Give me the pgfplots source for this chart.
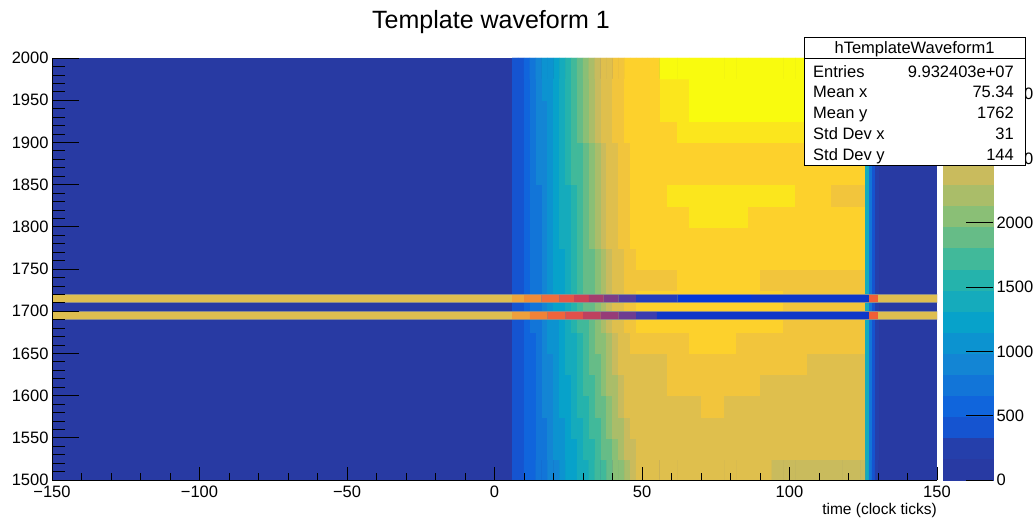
\documentclass[border=0pt]{standalone}
\usepackage{pgfplots}
\pgfplotsset{compat=1.18}
\usepackage{fontspec}
\setmainfont{Liberation Sans}
\pgfkeys{/pgf/number format/.cd,1000 sep={},assume math mode=true}
\definecolor{bgblue}{RGB}{40,58,163}
\pgfplotsset{colormap={bird20}{
 rgb255=(40,58,163) rgb255=(37,63,171) rgb255=(21,84,208) rgb255=(16,101,220) rgb255=(18,117,216)
 rgb255=(19,133,212) rgb255=(12,147,208) rgb255=(7,162,202) rgb255=(21,171,188) rgb255=(37,179,172)
 rgb255=(65,185,154) rgb255=(102,188,135) rgb255=(138,191,118) rgb255=(170,189,105) rgb255=(201,187,93)
 rgb255=(223,191,77) rgb255=(242,197,60) rgb255=(253,209,44) rgb255=(251,230,29) rgb255=(249,251,14)}}
\newcommand{\tickfont}{\fontsize{16.5}{19}\selectfont}
\newcommand{\statfont}{\fontsize{16.5}{19}\selectfont}
\newcommand{\seg}[7]{\addplot[draw=none, fill={rgb,255:red,#5;green,#6;blue,#7}, forget plot] coordinates {(#1,#3) (#2,#3) (#2,#4) (#1,#4) (#1,#3)};}
\begin{document}
\begin{tikzpicture}
\path[use as bounding box] (0pt,0pt) rectangle (1036pt,520pt);
\begin{axis}[
  at={(52pt,40pt)}, anchor=south west,
  scale only axis, width=885pt, height=422pt,
  xmin=-150, xmax=150, ymin=1500, ymax=2000,
  axis on top,
  axis x line*=bottom, axis y line*=left,
  axis line style={black, line width=0.8pt},
  xtick={-150,-100,-50,0,50,100,150},
  xticklabels={−150,−100,−50,0,50,100,150},
  ytick={1500,1550,...,2000},
  minor x tick num=4, minor y tick num=4,
  tick align=inside,
  xtick style={black, line width=0.7pt, /pgfplots/major tick length=13pt, /pgfplots/minor tick length=7pt},
  ytick style={black, line width=0.7pt, /pgfplots/major tick length=27pt, /pgfplots/minor tick length=13pt},
  tick label style={font=\tickfont},
  xticklabel style={yshift=-2pt},
  axis background/.style={fill=bgblue},
  colormap name=bird20,
  colormap access=piecewise constant,
  point meta min=0, point meta max=3280,
  colorbar shift/.style={xshift=6pt},
  colorbar,
  colorbar style={
    at={(parent axis.north east)}, anchor=north west,
    scale only axis, width=50pt, height=422pt,
    ytick={0,500,...,3000},
    ytick pos=right, yticklabel pos=right,
    tick align=inside,
    major tick length=27pt,
    minor y tick num=0,
    ytick style={black, line width=0.7pt},
    yticklabel style={font=\tickfont},
    axis line style={draw=none},
  },
]
\addplot[matrix plot*, mesh/cols=48, point meta=explicit] table[row sep=\\, meta=v] {
x y v\\
7 1512.5 352\\9 1512.5 426\\11 1512.5 507\\13 1512.5 593\\15 1512.5 681\\17 1512.5 773\\19 1512.5 865\\21 1512.5 963\\23 1512.5 1061\\25 1512.5 1162\\27 1512.5 1263\\29 1512.5 1367\\31 1512.5 1472\\33 1512.5 1576\\35 1512.5 1683\\37 1512.5 1792\\39 1512.5 1899\\41 1512.5 2010\\43 1512.5 2119\\45 1512.5 2234\\47 1512.5 2345\\49 1512.5 2470\\51 1512.5 2540\\53 1512.5 2540\\55 1512.5 2540\\57 1512.5 2540\\
60 1512.5 2540\\64 1512.5 2540\\68 1512.5 2540\\72 1512.5 2540\\76 1512.5 2540\\80 1512.5 2540\\84 1512.5 2540\\88 1512.5 2540\\92 1512.5 2540\\96 1512.5 2440\\100 1512.5 2440\\104 1512.5 2440\\108 1512.5 2440\\112 1512.5 2440\\116 1512.5 2440\\120 1512.5 2440\\123 1512.5 2440\\125 1512.5 2440\\126.5 1512.5 1350\\127.5 1512.5 800\\128.5 1512.5 420\\129.5 1512.5 250\\
7 1537.5 354\\9 1537.5 430\\11 1537.5 514\\13 1537.5 604\\15 1537.5 696\\17 1537.5 790\\19 1537.5 888\\21 1537.5 988\\23 1537.5 1093\\25 1537.5 1197\\27 1537.5 1302\\29 1537.5 1409\\31 1537.5 1517\\33 1537.5 1628\\35 1537.5 1741\\37 1537.5 1853\\39 1537.5 1966\\41 1537.5 2079\\43 1537.5 2198\\45 1537.5 2314\\47 1537.5 2431\\49 1537.5 2500\\51 1537.5 2540\\53 1537.5 2540\\55 1537.5 2540\\57 1537.5 2540\\
60 1537.5 2540\\64 1537.5 2540\\68 1537.5 2540\\72 1537.5 2540\\76 1537.5 2540\\80 1537.5 2540\\84 1537.5 2540\\88 1537.5 2540\\92 1537.5 2540\\96 1537.5 2540\\100 1537.5 2540\\104 1537.5 2540\\108 1537.5 2540\\112 1537.5 2540\\116 1537.5 2540\\120 1537.5 2540\\123 1537.5 2540\\125 1537.5 2540\\126.5 1537.5 1350\\127.5 1537.5 800\\128.5 1537.5 420\\129.5 1537.5 250\\
7 1562.5 356\\9 1562.5 435\\11 1562.5 523\\13 1562.5 615\\15 1562.5 711\\17 1562.5 810\\19 1562.5 913\\21 1562.5 1018\\23 1562.5 1126\\25 1562.5 1234\\27 1562.5 1345\\29 1562.5 1456\\31 1562.5 1569\\33 1562.5 1685\\35 1562.5 1801\\37 1562.5 1918\\39 1562.5 2036\\41 1562.5 2156\\43 1562.5 2278\\45 1562.5 2399\\47 1562.5 2500\\49 1562.5 2540\\51 1562.5 2540\\53 1562.5 2540\\55 1562.5 2540\\57 1562.5 2540\\
60 1562.5 2540\\64 1562.5 2540\\68 1562.5 2540\\72 1562.5 2540\\76 1562.5 2540\\80 1562.5 2540\\84 1562.5 2540\\88 1562.5 2540\\92 1562.5 2540\\96 1562.5 2540\\100 1562.5 2540\\104 1562.5 2540\\108 1562.5 2540\\112 1562.5 2540\\116 1562.5 2540\\120 1562.5 2540\\123 1562.5 2540\\125 1562.5 2540\\126.5 1562.5 1350\\127.5 1562.5 800\\128.5 1562.5 420\\129.5 1562.5 250\\
7 1587.5 358\\9 1587.5 438\\11 1587.5 529\\13 1587.5 624\\15 1587.5 723\\17 1587.5 825\\19 1587.5 930\\21 1587.5 1040\\23 1587.5 1150\\25 1587.5 1262\\27 1587.5 1374\\29 1587.5 1490\\31 1587.5 1606\\33 1587.5 1725\\35 1587.5 1845\\37 1587.5 1966\\39 1587.5 2086\\41 1587.5 2210\\43 1587.5 2336\\45 1587.5 2470\\47 1587.5 2540\\49 1587.5 2540\\51 1587.5 2540\\53 1587.5 2540\\55 1587.5 2540\\57 1587.5 2540\\
60 1587.5 2540\\64 1587.5 2540\\68 1587.5 2540\\72 1587.5 2700\\76 1587.5 2700\\80 1587.5 2540\\84 1587.5 2540\\88 1587.5 2540\\92 1587.5 2540\\96 1587.5 2540\\100 1587.5 2540\\104 1587.5 2540\\108 1587.5 2540\\112 1587.5 2540\\116 1587.5 2540\\120 1587.5 2540\\123 1587.5 2540\\125 1587.5 2540\\126.5 1587.5 1350\\127.5 1587.5 800\\128.5 1587.5 420\\129.5 1587.5 250\\
7 1612.5 358\\9 1612.5 442\\11 1612.5 536\\13 1612.5 633\\15 1612.5 735\\17 1612.5 839\\19 1612.5 948\\21 1612.5 1061\\23 1612.5 1173\\25 1612.5 1290\\27 1612.5 1407\\29 1612.5 1524\\31 1612.5 1645\\33 1612.5 1770\\35 1612.5 1890\\37 1612.5 2015\\39 1612.5 2139\\41 1612.5 2268\\43 1612.5 2396\\45 1612.5 2500\\47 1612.5 2540\\49 1612.5 2540\\51 1612.5 2540\\53 1612.5 2540\\55 1612.5 2540\\57 1612.5 2540\\
60 1612.5 2700\\64 1612.5 2700\\68 1612.5 2700\\72 1612.5 2700\\76 1612.5 2700\\80 1612.5 2700\\84 1612.5 2700\\88 1612.5 2700\\92 1612.5 2540\\96 1612.5 2540\\100 1612.5 2540\\104 1612.5 2540\\108 1612.5 2540\\112 1612.5 2540\\116 1612.5 2540\\120 1612.5 2540\\123 1612.5 2540\\125 1612.5 2540\\126.5 1612.5 1350\\127.5 1612.5 800\\128.5 1612.5 420\\129.5 1612.5 250\\
7 1637.5 360\\9 1637.5 446\\11 1637.5 542\\13 1637.5 643\\15 1637.5 747\\17 1637.5 855\\19 1637.5 967\\21 1637.5 1083\\23 1637.5 1200\\25 1637.5 1320\\27 1637.5 1440\\29 1637.5 1563\\31 1637.5 1688\\33 1637.5 1813\\35 1637.5 1940\\37 1637.5 2067\\39 1637.5 2198\\41 1637.5 2328\\43 1637.5 2470\\45 1637.5 2520\\47 1637.5 2540\\49 1637.5 2540\\51 1637.5 2540\\53 1637.5 2540\\55 1637.5 2540\\57 1637.5 2540\\
60 1637.5 2700\\64 1637.5 2700\\68 1637.5 2700\\72 1637.5 2700\\76 1637.5 2700\\80 1637.5 2700\\84 1637.5 2700\\88 1637.5 2700\\92 1637.5 2700\\96 1637.5 2700\\100 1637.5 2700\\104 1637.5 2700\\108 1637.5 2540\\112 1637.5 2540\\116 1637.5 2540\\120 1637.5 2540\\123 1637.5 2540\\125 1637.5 2540\\126.5 1637.5 1350\\127.5 1637.5 800\\128.5 1637.5 420\\129.5 1637.5 250\\
7 1662.5 362\\9 1662.5 448\\11 1662.5 549\\13 1662.5 652\\15 1662.5 761\\17 1662.5 873\\19 1662.5 988\\21 1662.5 1108\\23 1662.5 1228\\25 1662.5 1352\\27 1662.5 1474\\29 1662.5 1601\\31 1662.5 1730\\33 1662.5 1859\\35 1662.5 1992\\37 1662.5 2121\\39 1662.5 2258\\41 1662.5 2393\\43 1662.5 2501\\45 1662.5 2583\\47 1662.5 2700\\49 1662.5 2700\\51 1662.5 2700\\53 1662.5 2700\\55 1662.5 2700\\57 1662.5 2700\\
60 1662.5 2700\\64 1662.5 2700\\68 1662.5 2880\\72 1662.5 2880\\76 1662.5 2880\\80 1662.5 2880\\84 1662.5 2700\\88 1662.5 2700\\92 1662.5 2700\\96 1662.5 2700\\100 1662.5 2700\\104 1662.5 2700\\108 1662.5 2700\\112 1662.5 2700\\116 1662.5 2700\\120 1662.5 2700\\123 1662.5 2700\\125 1662.5 2700\\126.5 1662.5 1350\\127.5 1662.5 800\\128.5 1662.5 420\\129.5 1662.5 250\\
7 1687.5 364\\9 1687.5 455\\11 1687.5 556\\13 1687.5 663\\15 1687.5 775\\17 1687.5 890\\19 1687.5 1010\\21 1687.5 1134\\23 1687.5 1258\\25 1687.5 1385\\27 1687.5 1513\\29 1687.5 1643\\31 1687.5 1777\\33 1687.5 1909\\35 1687.5 2046\\37 1687.5 2183\\39 1687.5 2321\\41 1687.5 2470\\43 1687.5 2542\\45 1687.5 2624\\47 1687.5 2706\\49 1687.5 2795\\51 1687.5 2870\\53 1687.5 2880\\55 1687.5 2880\\57 1687.5 2880\\
60 1687.5 2880\\64 1687.5 2880\\68 1687.5 2880\\72 1687.5 2880\\76 1687.5 2880\\80 1687.5 2880\\84 1687.5 2880\\88 1687.5 2880\\92 1687.5 2880\\96 1687.5 2880\\100 1687.5 2700\\104 1687.5 2700\\108 1687.5 2700\\112 1687.5 2700\\116 1687.5 2700\\120 1687.5 2700\\123 1687.5 2700\\125 1687.5 2700\\126.5 1687.5 1350\\127.5 1687.5 800\\128.5 1687.5 420\\129.5 1687.5 250\\
7 1712.5 364\\9 1712.5 459\\11 1712.5 563\\13 1712.5 675\\15 1712.5 790\\17 1712.5 910\\19 1712.5 1034\\21 1712.5 1160\\23 1712.5 1290\\25 1712.5 1420\\27 1712.5 1553\\29 1712.5 1688\\31 1712.5 1824\\33 1712.5 1964\\35 1712.5 2102\\37 1712.5 2246\\39 1712.5 2390\\41 1712.5 2501\\43 1712.5 2583\\45 1712.5 2665\\47 1712.5 2747\\49 1712.5 2829\\51 1712.5 2880\\53 1712.5 2880\\55 1712.5 2880\\57 1712.5 2880\\
60 1712.5 2880\\64 1712.5 2880\\68 1712.5 2880\\72 1712.5 2880\\76 1712.5 2880\\80 1712.5 2880\\84 1712.5 2880\\88 1712.5 2880\\92 1712.5 2880\\96 1712.5 2880\\100 1712.5 2700\\104 1712.5 2700\\108 1712.5 2700\\112 1712.5 2700\\116 1712.5 2700\\120 1712.5 2700\\123 1712.5 2700\\125 1712.5 2700\\126.5 1712.5 1350\\127.5 1712.5 800\\128.5 1712.5 420\\129.5 1712.5 250\\
7 1737.5 364\\9 1737.5 459\\11 1737.5 563\\13 1737.5 675\\15 1737.5 790\\17 1737.5 910\\19 1737.5 1034\\21 1737.5 1160\\23 1737.5 1290\\25 1737.5 1420\\27 1737.5 1553\\29 1737.5 1688\\31 1737.5 1824\\33 1737.5 1964\\35 1737.5 2102\\37 1737.5 2246\\39 1737.5 2390\\41 1737.5 2501\\43 1737.5 2583\\45 1737.5 2665\\47 1737.5 2747\\49 1737.5 2760\\51 1737.5 2700\\53 1737.5 2700\\55 1737.5 2700\\57 1737.5 2700\\
60 1737.5 2700\\64 1737.5 2880\\68 1737.5 2880\\72 1737.5 2880\\76 1737.5 2880\\80 1737.5 2880\\84 1737.5 2880\\88 1737.5 2880\\92 1737.5 2700\\96 1737.5 2700\\100 1737.5 2700\\104 1737.5 2700\\108 1737.5 2700\\112 1737.5 2700\\116 1737.5 2700\\120 1737.5 2700\\123 1737.5 2700\\125 1737.5 2700\\126.5 1737.5 1350\\127.5 1737.5 800\\128.5 1737.5 420\\129.5 1737.5 250\\
7 1762.5 364\\9 1762.5 459\\11 1762.5 563\\13 1762.5 675\\15 1762.5 790\\17 1762.5 910\\19 1762.5 1034\\21 1762.5 1160\\23 1762.5 1290\\25 1762.5 1420\\27 1762.5 1553\\29 1762.5 1688\\31 1762.5 1824\\33 1762.5 1964\\35 1762.5 2102\\37 1762.5 2246\\39 1762.5 2390\\41 1762.5 2501\\43 1762.5 2583\\45 1762.5 2665\\47 1762.5 2747\\49 1762.5 2829\\51 1762.5 2880\\53 1762.5 2880\\55 1762.5 2880\\57 1762.5 2880\\
60 1762.5 2880\\64 1762.5 2880\\68 1762.5 2880\\72 1762.5 2880\\76 1762.5 2880\\80 1762.5 2880\\84 1762.5 2880\\88 1762.5 2880\\92 1762.5 2880\\96 1762.5 2880\\100 1762.5 2880\\104 1762.5 2880\\108 1762.5 2880\\112 1762.5 2880\\116 1762.5 2880\\120 1762.5 2880\\123 1762.5 2880\\125 1762.5 2880\\126.5 1762.5 1350\\127.5 1762.5 800\\128.5 1762.5 420\\129.5 1762.5 250\\
7 1787.5 366\\9 1787.5 464\\11 1787.5 573\\13 1787.5 687\\15 1787.5 807\\17 1787.5 930\\19 1787.5 1059\\21 1787.5 1190\\23 1787.5 1323\\25 1787.5 1458\\27 1787.5 1594\\29 1787.5 1736\\31 1787.5 1877\\33 1787.5 2020\\35 1787.5 2166\\37 1787.5 2312\\39 1787.5 2470\\41 1787.5 2542\\43 1787.5 2624\\45 1787.5 2706\\47 1787.5 2795\\49 1787.5 2870\\51 1787.5 2880\\53 1787.5 2880\\55 1787.5 2880\\57 1787.5 2880\\
60 1787.5 2880\\64 1787.5 2880\\68 1787.5 2880\\72 1787.5 2880\\76 1787.5 2880\\80 1787.5 2880\\84 1787.5 2880\\88 1787.5 2880\\92 1787.5 2880\\96 1787.5 2880\\100 1787.5 2880\\104 1787.5 2880\\108 1787.5 2880\\112 1787.5 2880\\116 1787.5 2880\\120 1787.5 2880\\123 1787.5 2880\\125 1787.5 2880\\126.5 1787.5 1350\\127.5 1787.5 800\\128.5 1787.5 420\\129.5 1787.5 250\\
7 1812.5 366\\9 1812.5 464\\11 1812.5 573\\13 1812.5 687\\15 1812.5 807\\17 1812.5 930\\19 1812.5 1059\\21 1812.5 1190\\23 1812.5 1323\\25 1812.5 1458\\27 1812.5 1594\\29 1812.5 1736\\31 1812.5 1877\\33 1812.5 2020\\35 1812.5 2166\\37 1812.5 2312\\39 1812.5 2470\\41 1812.5 2542\\43 1812.5 2624\\45 1812.5 2706\\47 1812.5 2795\\49 1812.5 2870\\51 1812.5 2880\\53 1812.5 2880\\55 1812.5 2880\\57 1812.5 2880\\
60 1812.5 2880\\64 1812.5 2880\\68 1812.5 3030\\72 1812.5 3030\\76 1812.5 3030\\80 1812.5 3030\\84 1812.5 3030\\88 1812.5 2880\\92 1812.5 2880\\96 1812.5 2880\\100 1812.5 2880\\104 1812.5 2880\\108 1812.5 2880\\112 1812.5 2880\\116 1812.5 2880\\120 1812.5 2880\\123 1812.5 2880\\125 1812.5 2880\\126.5 1812.5 1350\\127.5 1812.5 800\\128.5 1812.5 420\\129.5 1812.5 250\\
7 1837.5 366\\9 1837.5 464\\11 1837.5 573\\13 1837.5 687\\15 1837.5 807\\17 1837.5 930\\19 1837.5 1059\\21 1837.5 1190\\23 1837.5 1323\\25 1837.5 1458\\27 1837.5 1594\\29 1837.5 1736\\31 1837.5 1877\\33 1837.5 2020\\35 1837.5 2166\\37 1837.5 2312\\39 1837.5 2470\\41 1837.5 2542\\43 1837.5 2624\\45 1837.5 2706\\47 1837.5 2795\\49 1837.5 2870\\51 1837.5 2880\\53 1837.5 2880\\55 1837.5 2880\\57 1837.5 2880\\
60 1837.5 3030\\64 1837.5 3030\\68 1837.5 3030\\72 1837.5 3030\\76 1837.5 3030\\80 1837.5 3030\\84 1837.5 3030\\88 1837.5 3030\\92 1837.5 3030\\96 1837.5 3030\\100 1837.5 3030\\104 1837.5 2880\\108 1837.5 2880\\112 1837.5 2880\\116 1837.5 2700\\120 1837.5 2700\\123 1837.5 2700\\125 1837.5 2700\\126.5 1837.5 1350\\127.5 1837.5 800\\128.5 1837.5 420\\129.5 1837.5 250\\
7 1862.5 368\\9 1862.5 470\\11 1862.5 580\\13 1862.5 700\\15 1862.5 823\\17 1862.5 953\\19 1862.5 1085\\21 1862.5 1221\\23 1862.5 1358\\25 1862.5 1499\\27 1862.5 1640\\29 1862.5 1787\\31 1862.5 1933\\33 1862.5 2081\\35 1862.5 2232\\37 1862.5 2385\\39 1862.5 2501\\41 1862.5 2583\\43 1862.5 2665\\45 1862.5 2747\\47 1862.5 2829\\49 1862.5 2880\\51 1862.5 2880\\53 1862.5 2880\\55 1862.5 2880\\57 1862.5 2880\\
60 1862.5 2880\\64 1862.5 2880\\68 1862.5 2880\\72 1862.5 2880\\76 1862.5 2880\\80 1862.5 2880\\84 1862.5 2880\\88 1862.5 2880\\92 1862.5 2880\\96 1862.5 2880\\100 1862.5 2880\\104 1862.5 2880\\108 1862.5 2880\\112 1862.5 2880\\116 1862.5 2880\\120 1862.5 2880\\123 1862.5 2880\\125 1862.5 2880\\126.5 1862.5 1350\\127.5 1862.5 800\\128.5 1862.5 420\\129.5 1862.5 250\\
7 1887.5 368\\9 1887.5 470\\11 1887.5 580\\13 1887.5 700\\15 1887.5 823\\17 1887.5 953\\19 1887.5 1085\\21 1887.5 1221\\23 1887.5 1358\\25 1887.5 1499\\27 1887.5 1640\\29 1887.5 1787\\31 1887.5 1933\\33 1887.5 2081\\35 1887.5 2232\\37 1887.5 2385\\39 1887.5 2501\\41 1887.5 2583\\43 1887.5 2665\\45 1887.5 2747\\47 1887.5 2829\\49 1887.5 2880\\51 1887.5 2880\\53 1887.5 2880\\55 1887.5 2880\\57 1887.5 2880\\
60 1887.5 2880\\64 1887.5 2880\\68 1887.5 2880\\72 1887.5 2880\\76 1887.5 2880\\80 1887.5 2880\\84 1887.5 2880\\88 1887.5 2880\\92 1887.5 2880\\96 1887.5 2880\\100 1887.5 2880\\104 1887.5 2880\\108 1887.5 2880\\112 1887.5 2880\\116 1887.5 2880\\120 1887.5 2880\\123 1887.5 2880\\125 1887.5 2880\\126.5 1887.5 1350\\127.5 1887.5 800\\128.5 1887.5 420\\129.5 1887.5 250\\
7 1912.5 370\\9 1912.5 474\\11 1912.5 590\\13 1912.5 713\\15 1912.5 841\\17 1912.5 975\\19 1912.5 1113\\21 1912.5 1254\\23 1912.5 1396\\25 1912.5 1542\\27 1912.5 1690\\29 1912.5 1840\\31 1912.5 1992\\33 1912.5 2146\\35 1912.5 2302\\37 1912.5 2470\\39 1912.5 2542\\41 1912.5 2624\\43 1912.5 2706\\45 1912.5 2790\\47 1912.5 2870\\49 1912.5 2880\\51 1912.5 2880\\53 1912.5 2880\\55 1912.5 2880\\57 1912.5 2880\\
60 1912.5 2880\\64 1912.5 3030\\68 1912.5 3030\\72 1912.5 3030\\76 1912.5 3030\\80 1912.5 3030\\84 1912.5 3030\\88 1912.5 3030\\92 1912.5 3030\\96 1912.5 3030\\100 1912.5 3030\\104 1912.5 3030\\108 1912.5 3030\\112 1912.5 3030\\116 1912.5 3030\\120 1912.5 3030\\123 1912.5 3030\\125 1912.5 3030\\126.5 1912.5 1350\\127.5 1912.5 800\\128.5 1912.5 420\\129.5 1912.5 250\\
7 1937.5 370\\9 1937.5 474\\11 1937.5 590\\13 1937.5 713\\15 1937.5 841\\17 1937.5 975\\19 1937.5 1113\\21 1937.5 1254\\23 1937.5 1396\\25 1937.5 1542\\27 1937.5 1690\\29 1937.5 1840\\31 1937.5 1992\\33 1937.5 2146\\35 1937.5 2302\\37 1937.5 2470\\39 1937.5 2542\\41 1937.5 2624\\43 1937.5 2706\\45 1937.5 2790\\47 1937.5 2870\\49 1937.5 2880\\51 1937.5 2880\\53 1937.5 2880\\55 1937.5 2880\\57 1937.5 3030\\
60 1937.5 3030\\64 1937.5 3030\\68 1937.5 3200\\72 1937.5 3200\\76 1937.5 3200\\80 1937.5 3200\\84 1937.5 3200\\88 1937.5 3200\\92 1937.5 3200\\96 1937.5 3200\\100 1937.5 3200\\104 1937.5 3200\\108 1937.5 3200\\112 1937.5 3200\\116 1937.5 3200\\120 1937.5 3200\\123 1937.5 3200\\125 1937.5 3200\\126.5 1937.5 1350\\127.5 1937.5 800\\128.5 1937.5 420\\129.5 1937.5 250\\
7 1962.5 370\\9 1962.5 479\\11 1962.5 601\\13 1962.5 728\\15 1962.5 861\\17 1962.5 1001\\19 1962.5 1143\\21 1962.5 1290\\23 1962.5 1438\\25 1962.5 1588\\27 1962.5 1744\\29 1962.5 1899\\31 1962.5 2055\\33 1962.5 2217\\35 1962.5 2379\\37 1962.5 2501\\39 1962.5 2583\\41 1962.5 2665\\43 1962.5 2747\\45 1962.5 2829\\47 1962.5 2880\\49 1962.5 2880\\51 1962.5 2880\\53 1962.5 2880\\55 1962.5 2880\\57 1962.5 3030\\
60 1962.5 3030\\64 1962.5 3030\\68 1962.5 3200\\72 1962.5 3200\\76 1962.5 3200\\80 1962.5 3200\\84 1962.5 3200\\88 1962.5 3200\\92 1962.5 3200\\96 1962.5 3200\\100 1962.5 3200\\104 1962.5 3200\\108 1962.5 3200\\112 1962.5 3200\\116 1962.5 3200\\120 1962.5 3200\\123 1962.5 3200\\125 1962.5 3200\\126.5 1962.5 1350\\127.5 1962.5 800\\128.5 1962.5 420\\129.5 1962.5 250\\
7 1987.5 370\\9 1987.5 479\\11 1987.5 601\\13 1987.5 728\\15 1987.5 861\\17 1987.5 1001\\19 1987.5 1143\\21 1987.5 1290\\23 1987.5 1438\\25 1987.5 1588\\27 1987.5 1744\\29 1987.5 1899\\31 1987.5 2055\\33 1987.5 2217\\35 1987.5 2379\\37 1987.5 2501\\39 1987.5 2583\\41 1987.5 2665\\43 1987.5 2747\\45 1987.5 2829\\47 1987.5 2880\\49 1987.5 2880\\51 1987.5 2880\\53 1987.5 2880\\55 1987.5 2880\\57 1987.5 3200\\
60 1987.5 3200\\64 1987.5 3200\\68 1987.5 3200\\72 1987.5 3200\\76 1987.5 3200\\80 1987.5 3200\\84 1987.5 3200\\88 1987.5 3200\\92 1987.5 3200\\96 1987.5 3200\\100 1987.5 3200\\104 1987.5 3200\\108 1987.5 3200\\112 1987.5 3200\\116 1987.5 3200\\120 1987.5 3200\\123 1987.5 3200\\125 1987.5 3200\\126.5 1987.5 1350\\127.5 1987.5 800\\128.5 1987.5 420\\129.5 1987.5 250\\
};
% upper band 1710-1720
\seg{-150}{6}{1710}{1720}{222}{190}{80}
\seg{6}{10}{1710}{1720}{238}{165}{60}
\seg{10}{16}{1710}{1720}{240}{140}{55}
\seg{16}{22}{1710}{1720}{240}{110}{60}
\seg{22}{27}{1710}{1720}{230}{85}{70}
\seg{27}{32}{1710}{1720}{205}{65}{85}
\seg{32}{37}{1710}{1720}{165}{60}{110}
\seg{37}{42}{1710}{1720}{125}{60}{135}
\seg{42}{48}{1710}{1720}{85}{60}{160}
\seg{48}{62}{1710}{1720}{35}{60}{190}
\seg{62}{87}{1710}{1720}{5}{55}{215}
\seg{87}{127}{1710}{1720}{15}{55}{200}
\seg{127}{130}{1710}{1720}{240}{95}{55}
\seg{130}{150}{1710}{1720}{222}{190}{80}
% lower band 1690-1700
\seg{-150}{6}{1690}{1700}{222}{190}{80}
\seg{6}{12}{1690}{1700}{238}{160}{60}
\seg{12}{18}{1690}{1700}{240}{130}{55}
\seg{18}{24}{1690}{1700}{240}{100}{60}
\seg{24}{30}{1690}{1700}{225}{80}{75}
\seg{30}{36}{1690}{1700}{190}{65}{95}
\seg{36}{42}{1690}{1700}{150}{60}{120}
\seg{42}{48}{1690}{1700}{110}{60}{145}
\seg{48}{55}{1690}{1700}{60}{60}{175}
\seg{55}{127}{1690}{1700}{15}{55}{200}
\seg{127}{130}{1690}{1700}{240}{95}{55}
\seg{130}{150}{1690}{1700}{222}{190}{80}
\addplot[draw=black!45, line width=0.6pt, forget plot] coordinates {(-150,1710) (150,1710) (150,1720) (-150,1720) (-150,1710)};
\addplot[draw=black!45, line width=0.6pt, forget plot] coordinates {(-150,1690) (150,1690) (150,1700) (-150,1700) (-150,1690)};
\end{axis}
% title and axis label
\node[font=\fontsize{25}{30}\selectfont, anchor=base, inner sep=0pt] at (491pt,491pt) {Template waveform 1};
\node[font=\fontsize{15.5}{18}\selectfont, anchor=base east, inner sep=0pt] at (937pt,6pt) {time (clock ticks)};
% statistics box
\draw[black, line width=0.8pt, fill=white] (804pt,355pt) rectangle (1025pt,483pt);
\draw[black, line width=0.8pt] (804pt,461.5pt) -- (1025pt,461.5pt);
\node[font=\statfont, anchor=base, inner sep=0pt] at (914.5pt,466pt) {hTemplateWaveform1};
\node[font=\statfont, anchor=base west, inner sep=0pt] at (813pt,442pt) {Entries};
\node[font=\statfont, anchor=base east, inner sep=0pt] at (1014pt,442pt) {9.932403e+07};
\node[font=\statfont, anchor=base west, inner sep=0pt] at (813pt,422pt) {Mean x};
\node[font=\statfont, anchor=base east, inner sep=0pt] at (1014pt,422pt) {75.34};
\node[font=\statfont, anchor=base west, inner sep=0pt] at (813pt,401pt) {Mean y};
\node[font=\statfont, anchor=base east, inner sep=0pt] at (1014pt,401pt) {1762};
\node[font=\statfont, anchor=base west, inner sep=0pt] at (813pt,380pt) {Std Dev x};
\node[font=\statfont, anchor=base east, inner sep=0pt] at (1014pt,380pt) {31};
\node[font=\statfont, anchor=base west, inner sep=0pt] at (813pt,359pt) {Std Dev y};
\node[font=\statfont, anchor=base east, inner sep=0pt] at (1014pt,359pt) {144};
\end{tikzpicture}
\end{document}
